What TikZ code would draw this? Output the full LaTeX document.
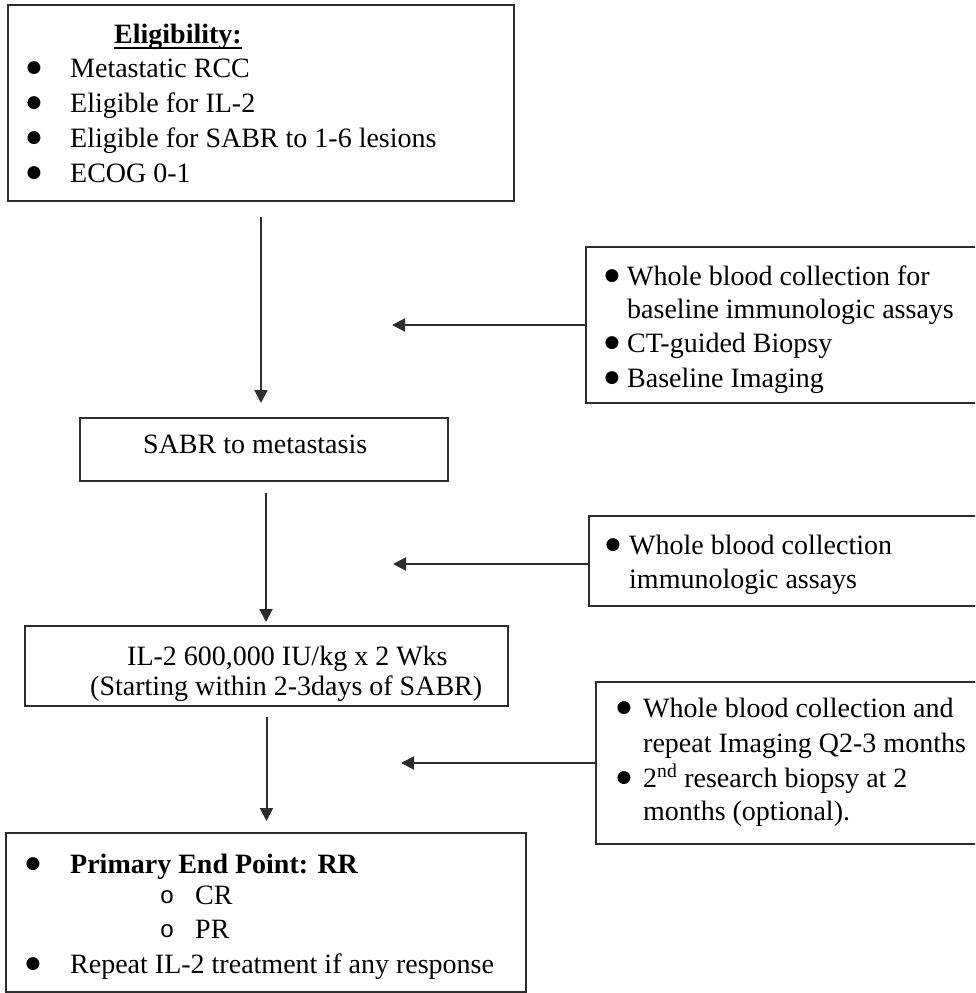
\documentclass[tikz,border=0pt]{standalone}
\usepackage{fontspec}
\setmainfont{Liberation Serif}
\newfontfamily\monofont{Liberation Mono}
\newfontfamily\dotfont{DejaVu Sans}
\usetikzlibrary{arrows.meta}
\definecolor{linegray}{RGB}{45,45,45}
\begin{document}
\begin{tikzpicture}[x=1pt,y=-1pt,
  box/.style={draw=linegray, line width=2pt, rectangle, inner sep=0pt, outer sep=0pt},
  txt/.style={anchor=base west, inner sep=0pt, font=\fontsize{28}{34}\selectfont},
  bul/.style={anchor=base, inner sep=0pt, yshift=5pt, font=\fontsize{17}{17}\dotfont},
  sub/.style={anchor=base, inner sep=0pt, font=\fontsize{24}{24}\monofont},
  flow/.style={draw=linegray, line width=2pt, -{Triangle[length=13pt,width=13pt]}},
]
\useasboundingbox (0,0) rectangle (975,993);
\clip (0,0) rectangle (975,993);

% ---- frames ----
\node[box, minimum width=506, minimum height=196] (elig)   at (261,103)   {};
\node[box, minimum width=404, minimum height=156] (base)   at (788,325)   {};
\node[box, minimum width=368, minimum height=63]  (sabr)   at (264,449.5) {};
\node[box, minimum width=401, minimum height=90]  (mid)    at (789.5,561) {};
\node[box, minimum width=483, minimum height=80]  (il2)    at (266.5,666) {};
\node[box, minimum width=394, minimum height=162] (follow) at (793,763)   {};
\node[box, minimum width=520, minimum height=159] (endp)   at (266,912.5) {};

% ---- eligibility ----
\node[txt, anchor=base, font=\fontsize{28}{34}\selectfont\bfseries] (elighead) at (178,43) {Eligibility:};
\draw[line width=1.5pt] ([yshift=-5pt]elighead.base west) -- ([yshift=-5pt]elighead.base east);
\node[bul] (eb1) at (34,77)  {●};
\node[txt] (et1) at (70,77)  {Metastatic RCC};
\node[bul] (eb2) at (34,112) {●};
\node[txt] (et2) at (70,112) {Eligible for IL-2};
\node[bul] (eb3) at (34,147) {●};
\node[txt] (et3) at (70,147) {Eligible for SABR to 1-6 lesions};
\node[bul] (eb4) at (34,182) {●};
\node[txt] (et4) at (70,182) {ECOG 0-1};

% ---- baseline work-up ----
\node[bul] (bb1) at (612,285) {●};
\node[txt] (bt1) at (627,285) {Whole blood collection for};
\node[txt] (bt2) at (627,318) {baseline immunologic assays};
\node[bul] (bb2) at (612,352) {●};
\node[txt] (bt3) at (627,352) {CT-guided Biopsy};
\node[bul] (bb3) at (612,387) {●};
\node[txt] (bt4) at (627,387) {Baseline Imaging};

% ---- SABR ----
\node[txt] (st) at (143,453) {SABR to metastasis};

% ---- blood after SABR ----
\node[bul] (mb1) at (613,554) {●};
\node[txt] (mt1) at (629,554) {Whole blood collection};
\node[txt] (mt2) at (629,588) {immunologic assays};

% ---- IL-2 ----
\node[txt] (it1) at (127,665) {IL-2 600,000 IU/kg x 2 Wks};
\node[txt] (it2) at (90,695)  {(Starting within 2-3days of SABR)};

% ---- follow-up ----
\node[bul] (fb1) at (624,717) {●};
\node[txt] (ft1) at (643,717) {Whole blood collection and};
\node[txt] (ft2) at (643,752) {repeat Imaging Q2-3 months};
\node[bul] (fb2) at (624,787) {●};
\node[txt] (ft3) at (643,787) {2\textsuperscript{nd} research biopsy at 2};
\node[txt] (ft4) at (643,820) {months (optional).};

% ---- end point ----
\node[bul] (pb1) at (33,873) {●};
\node[txt, font=\fontsize{28}{34}\selectfont\bfseries] (pt1) at (70,873) {Primary End Point: RR};
\node[sub] (po1) at (167,903) {o};
\node[txt] (pt2) at (195,904) {CR};
\node[sub] (po2) at (167,937) {o};
\node[txt] (pt3) at (195,938) {PR};
\node[bul] (pb2) at (33,973) {●};
\node[txt] (pt4) at (70,973) {Repeat IL-2 treatment if any response};

% ---- arrows ----
\coordinate (t1) at (392,325);
\coordinate (t2) at (393,564);
\coordinate (t3) at (401,763);
\draw[flow, shorten <=16pt, shorten >=15pt] (elig.south) -- (elig.south |- sabr.north);
\draw[flow, shorten <=12pt, shorten >=4pt]  ([xshift=2pt]sabr.south) -- ([xshift=2pt]sabr.south |- il2.north);
\draw[flow, shorten <=11pt, shorten >=12pt] (il2.south) -- (il2.south |- endp.north);
\draw[flow] (base.west) -- (t1);
\draw[flow] (t2 -| mid.west) -- (t2);
\draw[flow] (follow.west) -- (t3);
\end{tikzpicture}
\end{document}
